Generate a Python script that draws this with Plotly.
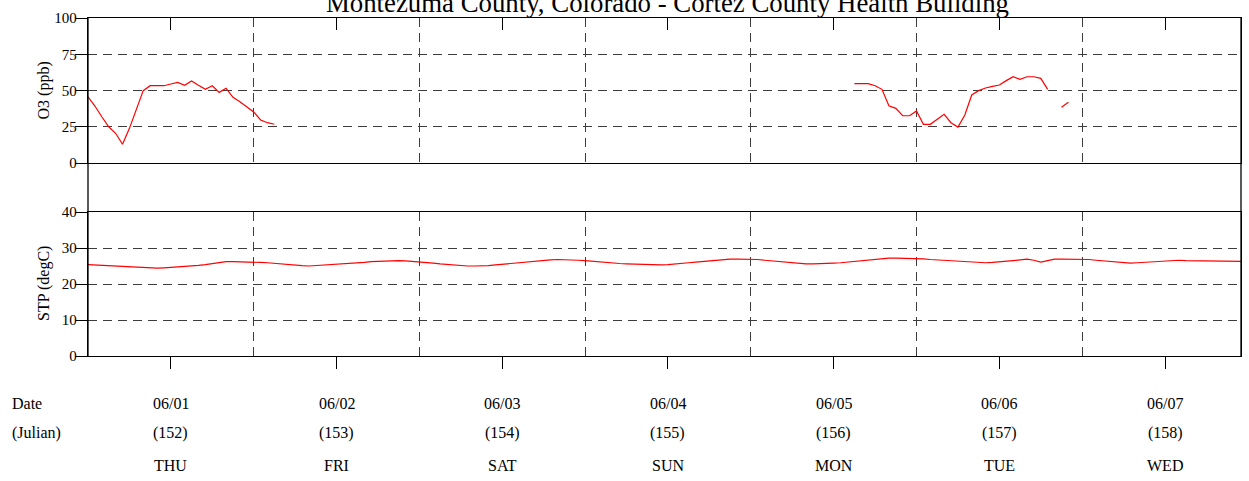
import plotly.graph_objects as go

# ---------------- data ----------------
JULIAN_DAYS = [152, 153, 154, 155, 156, 157, 158]
DATE_LABELS = ["06/01", "06/02", "06/03", "06/04", "06/05", "06/06", "06/07"]
JULIAN_LABELS = ["(152)", "(153)", "(154)", "(155)", "(156)", "(157)", "(158)"]
DOW_LABELS = ["THU", "FRI", "SAT", "SUN", "MON", "TUE", "WED"]

N = None
# hourly ozone (ppb), hours 0..23 of each day
O3_152 = [45.7, 39.3, 31.9, 25.0, 20.5, 12.9, 23.9, 36.5, 49.9, 53.3, 53.3, 53.3,
          54.5, 55.6, 53.6, 56.6, 53.6, 50.8, 53.3, 48.7, 51.5, 45.3, 42.3, 38.8]
O3_153 = [35.2, 29.7, 27.8, 26.7, N, N, N, N, N, N, N, N,
          N, N, N, N, N, N, N, N, N, N, N, N]
O3_154 = [N] * 24
O3_155 = [N] * 24
O3_156 = [N, N, N, N, N, N, N, N, N, N, N, N,
          N, N, N, 54.7, 54.7, 54.7, 53.3, 50.8, 39.5, 37.7, 32.6, 32.6]
O3_157 = [35.9, 26.7, 26.7, 30.3, 33.6, 27.8, 24.8, 33.1, 46.9, 49.9, 51.7, 52.9,
          53.8, 56.8, 59.5, 57.7, 59.5, 59.5, 58.4, 50.8, N, 38.4, 41.9, N]
O3_158 = [N] * 24

# hourly temperature (degC)
STP_152 = [25.4, 25.3, 25.2, 25.1, 25.0, 24.9, 24.8, 24.7, 24.5, 24.4, 24.4, 24.5,
           24.6, 24.8, 24.9, 25.0, 25.2, 25.4, 25.7, 26.0, 26.2, 26.2, 26.2, 26.2]
STP_153 = [26.1, 26.0, 25.9, 25.7, 25.5, 25.3, 25.2, 25.1, 25.0, 25.1, 25.2, 25.3,
           25.4, 25.5, 25.6, 25.8, 26.0, 26.2, 26.3, 26.4, 26.5, 26.5, 26.4, 26.3]
STP_154 = [26.2, 26.0, 25.8, 25.6, 25.4, 25.2, 25.1, 25.0, 25.0, 25.0, 25.1, 25.3,
           25.5, 25.6, 25.7, 25.9, 26.1, 26.4, 26.6, 26.7, 26.8, 26.8, 26.7, 26.6]
STP_155 = [26.5, 26.3, 26.1, 25.9, 25.8, 25.7, 25.6, 25.5, 25.4, 25.3, 25.3, 25.3,
           25.4, 25.5, 25.7, 25.9, 26.1, 26.3, 26.5, 26.7, 26.8, 26.9, 26.9, 26.9]
STP_156 = [26.9, 26.8, 26.6, 26.4, 26.2, 26.0, 25.8, 25.7, 25.6, 25.6, 25.6, 25.7,
           25.8, 25.9, 26.1, 26.2, 26.4, 26.6, 26.7, 27.0, 27.2, 27.2, 27.2, 27.2]
STP_157 = [27.1, 27.0, 26.8, 26.7, 26.5, 26.4, 26.2, 26.1, 26.0, 25.9, 25.9, 26.0,
           26.1, 26.3, 26.5, 26.7, 26.9, 26.6, 26.1, 26.5, 26.9, 26.9, 26.9, 26.9]
STP_158 = [26.9, 26.8, 26.6, 26.4, 26.2, 26.0, 25.8, 25.8, 25.9, 26.0, 26.2, 26.4,
           26.5, 26.6, 26.6, 26.5, 26.5, 26.4, 26.4, 26.4, 26.4, 26.4, 26.4, 26.3]

O3 = O3_152 + O3_153 + O3_154 + O3_155 + O3_156 + O3_157 + O3_158
STP = STP_152 + STP_153 + STP_154 + STP_155 + STP_156 + STP_157 + STP_158
HOURS = list(range(len(STP)))

# ---------------- figure ----------------
W, H = 1249, 481
SERIF = "Liberation Serif"
GRID = "#3c3c3c"
DASH = "9px,6px"
LBL = 16

x_time = [JULIAN_DAYS[0] + h / 24.0 for h in HOURS]
x_end = JULIAN_DAYS[0] + HOURS[-1] / 24.0


def py(px):
    return 1 - px / H


fig = go.Figure()
fig.add_trace(go.Scatter(x=x_time, y=O3, mode="lines", line=dict(color="#ff0000", width=1.2),
                         connectgaps=False, xaxis="x", yaxis="y", showlegend=False))
fig.add_trace(go.Scatter(x=x_time, y=STP, mode="lines", line=dict(color="#ff0000", width=1.2),
                         xaxis="x2", yaxis="y2", showlegend=False))

noon_ticks = [d + 0.5 for d in JULIAN_DAYS]
midnight = [d for d in JULIAN_DAYS[1:]]

xdom = [88 / W, 1241 / W]
common_x = dict(range=[JULIAN_DAYS[0], x_end], domain=xdom, showticklabels=False,
                tickvals=noon_ticks, ticklen=12, tickcolor="black", tickwidth=1,
                showgrid=False, zeroline=False, showline=True, linecolor="black",
                linewidth=1.3, mirror=True, automargin=False,
                minor=dict(tickvals=midnight, showgrid=True, gridcolor=GRID,
                           griddash=DASH, gridwidth=1.2, ticks=""))

common_y = dict(ticks="outside", ticklen=12, tickcolor="black", showline=True,
                linecolor="black", linewidth=1.3, mirror=True, showgrid=True,
                gridcolor=GRID, griddash=DASH, gridwidth=1.2, zeroline=False,
                tickfont=dict(size=15, family=SERIF), automargin=False,
                ticklabelstandoff=-5)

fig.update_layout(
    width=W, height=H,
    margin=dict(l=0, r=0, t=0, b=0, autoexpand=False),
    paper_bgcolor="white", plot_bgcolor="white",
    font=dict(family=SERIF, size=14, color="black"),
    xaxis=dict(**common_x, anchor="y", side="top", ticks="inside"),
    xaxis2=dict(**common_x, anchor="y2", matches="x", side="bottom", ticks="outside"),
    yaxis=dict(**common_y, domain=[py(163), py(18)], range=[0, 100],
               tickvals=[0, 25, 50, 75, 100]),
    yaxis2=dict(**common_y, domain=[py(356), py(212)], range=[0, 40],
                tickvals=[0, 10, 20, 30, 40]),
)

# continuous side frame between the two panels
for xv in xdom:
    fig.add_shape(type="line", xref="paper", yref="paper", x0=xv, x1=xv,
                  y0=py(356), y1=py(18), line=dict(color="black", width=1.3))

# axis titles
fig.add_annotation(text="O3 (ppb)", xref="paper", yref="paper", x=44 / W, y=py(90.5),
                   textangle=-90, showarrow=False, xanchor="center", yanchor="middle",
                   font=dict(size=LBL, family=SERIF))
fig.add_annotation(text="STP (degC)", xref="paper", yref="paper", x=44 / W, y=py(284),
                   textangle=-90, showarrow=False, xanchor="center", yanchor="middle",
                   font=dict(size=LBL, family=SERIF))

# title (partly cut at the top edge as in the original)
fig.add_annotation(text="Montezuma County, Colorado - Cortez County Health Building",
                   xref="paper", yref="paper", x=667.5 / W, y=py(20), xanchor="center",
                   yanchor="bottom", showarrow=False, font=dict(size=26.8, family=SERIF))

# bottom labels
fig.add_annotation(text="Date", xref="paper", yref="paper", x=10 / W, y=py(403),
                   xanchor="left", yanchor="middle", showarrow=False,
                   font=dict(size=LBL, family=SERIF))
fig.add_annotation(text="(Julian)", xref="paper", yref="paper", x=10 / W, y=py(433),
                   xanchor="left", yanchor="middle", showarrow=False,
                   font=dict(size=LBL, family=SERIF))
for d, dl, jl, wl in zip(JULIAN_DAYS, DATE_LABELS, JULIAN_LABELS, DOW_LABELS):
    for txt, ypx in ((dl, 403), (jl, 433), (wl, 465)):
        fig.add_annotation(text=txt, xref="x2", yref="paper", x=d + 0.5, y=py(ypx),
                           xanchor="center", yanchor="middle", showarrow=False,
                           font=dict(size=LBL, family=SERIF))

fig.write_html("out.html", config={"displayModeBar": False},
               post_script="document.body.style.margin='0px';")
